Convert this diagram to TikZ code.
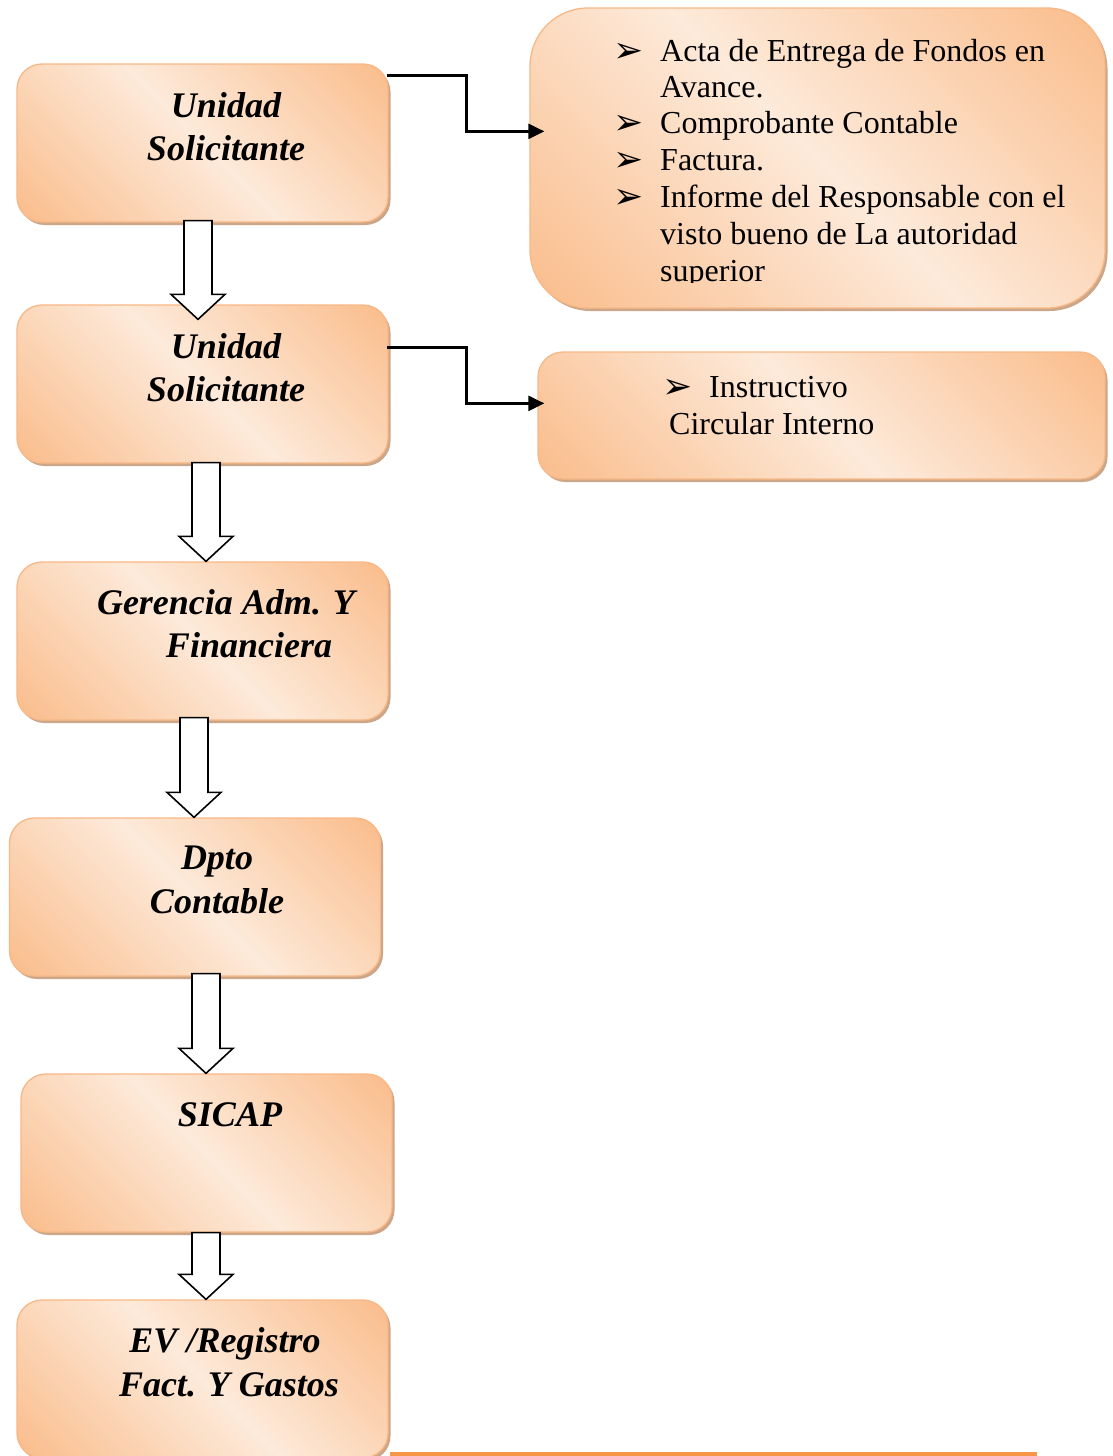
\documentclass[tikz,border=0pt]{standalone}
\usepackage{fontspec}
\setmainfont{Liberation Serif}
\newfontfamily\symfont{DejaVu Sans}
\usetikzlibrary{arrows.meta,shadows,calc}
\definecolor{boxdark}{RGB}{250,190,142}
\definecolor{boxlight}{RGB}{253,234,218}
\definecolor{boxline}{RGB}{248,184,134}
\definecolor{boxshadow}{RGB}{204,166,136}
\definecolor{lineorange}{RGB}{247,150,70}
\pgfdeclarehorizontalshading{wordgrad}{100bp}{color(0bp)=(boxdark); color(16bp)=(boxdark); color(50bp)=(boxlight); color(84bp)=(boxdark); color(100bp)=(boxdark)}
\tikzset{
  flowbox/.style={rectangle, rounded corners=25pt, draw=boxline, line width=1.3pt,
    shading=wordgrad, shading angle=45, minimum width=371pt, minimum height=158pt,
    inner sep=0pt, drop shadow={shadow xshift=2.5pt, shadow yshift=-3pt, fill=boxshadow, opacity=1}},
  boxtext/.style={anchor=base, inner sep=0pt, font=\fontsize{36}{44}\selectfont\bfseries\itshape},
  listtext/.style={anchor=base west, inner sep=0pt, font=\fontsize{32}{37}\selectfont},
  bullet/.style={anchor=base west, inner sep=0pt, font=\symfont\fontsize{36}{36}\selectfont},
  blockarr/.style={draw=black, fill=white, line width=1.6pt, line join=miter},
  conn/.style={draw=black, line width=2.4pt, -{Triangle[length=16pt,width=15pt]}}
}
% #1 from node, #2 to node, #3 x centre, #4 start above bottom of #1, #5 tip below top of #2
\newcommand{\blockarrow}[5]{%
  \draw[blockarr] let \p1=(#1.south), \p2=(#2.north) in
   ({#3pt-14pt},{\y1+#4pt}) -- ({#3pt+14pt},{\y1+#4pt}) -- ({#3pt+14pt},{\y2-#5pt+25pt})
   -- ({#3pt+27pt},{\y2-#5pt+25pt}) -- ({#3pt},{\y2-#5pt}) -- ({#3pt-27pt},{\y2-#5pt+25pt})
   -- ({#3pt-14pt},{\y2-#5pt+25pt}) -- cycle;}
\begin{document}
\begin{tikzpicture}[x=1pt,y=-1pt]
\useasboundingbox (0,0) rectangle (1112,1456);
\clip (0,0) rectangle (1112,1456);
\fill[white] (0,0) rectangle (1112,1456);

% left column boxes
\node[flowbox] (b1) at (202.5,143) {};
\node[flowbox] (b2) at (202.5,384) {};
\node[flowbox] (b3) at (202.5,641) {};
\node[flowbox] (b4) at (195,897) {};
\node[flowbox] (b5) at (206.5,1153) {};
\node[flowbox] (b6) at (202.5,1379) {};

% right boxes
\node[flowbox, rounded corners=58pt, minimum width=575pt, minimum height=300pt] (r1) at (817.5,158) {};
\node[flowbox, minimum width=567pt, minimum height=127pt] (r2) at (821.5,415.5) {};

% left texts
\node[boxtext] (t1a) at (226,117) {Unidad};
\node[boxtext] (t1b) at (226,160) {Solicitante};
\node[boxtext] (t2a) at (226,358) {Unidad};
\node[boxtext] (t2b) at (226,401) {Solicitante};
\node[boxtext] (t3a) at (226,614) {Gerencia Adm. Y};
\node[boxtext] (t3b) at (249,657) {Financiera};
\node[boxtext] (t4a) at (217,869) {Dpto};
\node[boxtext] (t4b) at (217,913) {Contable};
\node[boxtext] (t5a) at (230,1126) {SICAP};
\node[boxtext] (t6a) at (225,1352) {EV /Registro};
\node[boxtext] (t6b) at (229,1396) {Fact. Y Gastos};

% right box 1 list
\node[bullet] (k1) at (613,62) {➢};
\node[bullet] (k2) at (613,134) {➢};
\node[bullet] (k3) at (613,171) {➢};
\node[bullet] (k4) at (613,208) {➢};
\node[listtext] (l1) at (660,61) {Acta de Entrega de Fondos en};
\node[listtext] (l2) at (660,97) {Avance.};
\node[listtext] (l3) at (660,133) {Comprobante Contable};
\node[listtext] (l4) at (660,170) {Factura.};
\node[listtext] (l5) at (660,207) {Informe del Responsable con el};
\node[listtext] (l6) at (660,244) {visto bueno de La autoridad};
\begin{scope}
\clip (600,250) rectangle (1000,282);
\node[listtext] (l7) at (660,281) {superior};
\end{scope}

% right box 2
\node[bullet] (k5) at (662,398) {➢};
\node[listtext] (m1) at (709,397) {Instructivo};
\node[listtext] (m2) at (669,434) {Circular Interno};

% block arrows
\blockarrow{b1}{b2}{198}{2}{15}
\blockarrow{b2}{b3}{206}{1}{0}
\blockarrow{b3}{b4}{194}{3}{0}
\blockarrow{b4}{b5}{206}{3}{0}
\blockarrow{b5}{b6}{206}{0}{0}

% elbow connectors
\draw[conn] ([shift={(-2pt,-12pt)}]b1.north east) -- ++(80,0) |- ([shift={(15pt,-124pt)}]r1.north west);
\draw[conn] ([shift={(-2pt,-43pt)}]b2.north east) -- ++(80,0) |- ([shift={(7pt,-52pt)}]r2.north west);

% orange rule at the bottom
\coordinate (ruleA) at (390,1454);
\coordinate (ruleB) at (1037,1454);
\draw[lineorange, line width=4pt] (ruleA) -- (ruleB);
\end{tikzpicture}
\end{document}
